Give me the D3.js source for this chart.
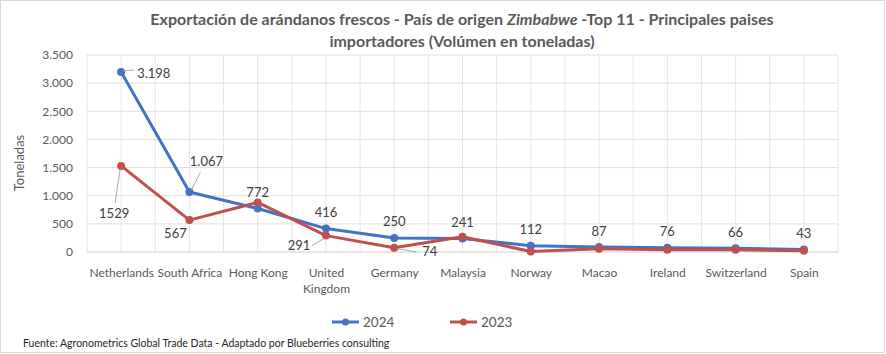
<!DOCTYPE html>
<html>
<head>
<meta charset="utf-8">
<script src="https://cdn.jsdelivr.net/npm/d3@7"></script>
<style>
  body { margin: 0; background: #fff; }
  text { font-family: Lato, "Open Sans", sans-serif; }
</style>
</head>
<body>
<div id="chart"></div>
<script>
// data
var countries = ["Netherlands", "South Africa", "Hong Kong", "United Kingdom", "Germany",
  "Malaysia", "Norway", "Macao", "Ireland", "Switzerland", "Spain"];
var values2024 = [3198, 1067, 772, 416, 250, 241, 112, 87, 76, 66, 43];
var values2023 = [1529, 567, 880, 291, 74, 270, 8, 58, 42, 38, 20];
var yTicks = [0, 500, 1000, 1500, 2000, 2500, 3000, 3500];
var seriesNames = ["2024", "2023"];

var W = 886, H = 354;
var margin = { top: 55, right: 48, bottom: 102, left: 87 };
var width = 838 - margin.left,
  height = 252 - margin.top;

var blue = "#4472c4", red = "#c0504d";
var textColor = "#595959";

var svgRoot = d3.select("#chart").append("svg")
  .attr("width", W).attr("height", H);

// outer frame
svgRoot.append("rect")
  .attr("x", 0.5).attr("y", 0.5)
  .attr("width", W - 2).attr("height", H - 2)
  .style("fill", "#fff").style("stroke", "#d9d9d9");

// title
var title = svgRoot.append("text")
  .attr("x", 462).attr("y", 25)
  .attr("text-anchor", "middle")
  .style("font-size", "16px").style("font-weight", "bold").style("fill", textColor);
title.append("tspan").text("Exportación de arándanos frescos - País de origen ");
title.append("tspan").style("font-style", "italic").text("Zimbabwe");
title.append("tspan").text(" -Top 11 - Principales paises");
svgRoot.append("text")
  .attr("x", 462).attr("y", 47)
  .attr("text-anchor", "middle")
  .style("font-size", "16px").style("font-weight", "bold").style("fill", textColor)
  .text("importadores (Volúmen en toneladas)");

var svg = svgRoot.append("g")
  .attr("transform", `translate(${margin.left},${margin.top})`);

var x = d3.scalePoint().domain(countries).range([0, width]).padding(0.5);
var y = d3.scaleLinear().domain([0, 3500]).range([height, 0]);
var step = x.step();

// vertical gridlines at category centres and boundaries
var vLines = [];
countries.forEach(function (c, i) {
  vLines.push(x(c) - step / 2);
  vLines.push(x(c));
});
vLines.push(width);
svg.append("g").selectAll("line").data(vLines).enter().append("line")
  .attr("x1", function (d) { return d; }).attr("x2", function (d) { return d; })
  .attr("y1", 0).attr("y2", height)
  .style("stroke", "#e6e6e6").style("stroke-width", 1);

// horizontal gridlines
svg.append("g").selectAll("line").data(yTicks).enter().append("line")
  .attr("x1", 0).attr("x2", width)
  .attr("y1", function (d) { return y(d); }).attr("y2", function (d) { return y(d); })
  .style("stroke", function (d) { return d === 0 ? "#d0d0d0" : "#e0e0e0"; })
  .style("stroke-width", 1);

// y axis labels
var fmt = d3.formatLocale({ decimal: ",", thousands: ".", grouping: [3], currency: ["", ""] }).format(",");
var yAxis = d3.axisLeft(y).tickValues(yTicks).tickSize(0).tickPadding(14).tickFormat(fmt);
var gy = svg.append("g").call(yAxis);
gy.select(".domain").remove();
gy.selectAll("text").style("font-size", "12px").style("fill", textColor).style("font-family", "Lato, sans-serif");

svgRoot.append("text")
  .attr("transform", "translate(24,163) rotate(-90)")
  .attr("text-anchor", "middle")
  .style("font-size", "13px").style("fill", textColor)
  .text("Toneladas");

// x axis labels
var xAxis = d3.axisBottom(x).tickSize(0).tickPadding(16);
var gx = svg.append("g").attr("transform", `translate(0,${height})`).call(xAxis);
gx.select(".domain").remove();
gx.selectAll("text").style("font-size", "12px").style("fill", textColor).style("font-family", "Lato, sans-serif")
  .each(function (d) {
    if (d === "United Kingdom") {
      var t = d3.select(this);
      t.text(null);
      t.append("tspan").attr("x", 0).attr("dy", "0.71em").text("United");
      t.append("tspan").attr("x", 0).attr("dy", "1.35em").text("Kingdom");
    }
  });

// lines
var line = d3.line()
  .x(function (d, i) { return x(countries[i]); })
  .y(function (d) { return y(d); });

function drawSeries(vals, color) {
  svg.append("path").datum(vals)
    .attr("d", line)
    .style("fill", "none").style("stroke", color)
    .style("stroke-width", 3).style("stroke-linejoin", "round");
  svg.append("g").selectAll("circle").data(vals).enter().append("circle")
    .attr("cx", function (d, i) { return x(countries[i]); })
    .attr("cy", function (d) { return y(d); })
    .attr("r", 4).style("fill", color);
}
drawSeries(values2024, blue);
drawSeries(values2023, red);

// data labels (offsets relative to the point, leader lines where the chart has them)
var labels2024 = {
  0: { dx: 14, dy: 1, anchor: "start", leader: [[2, -1], [13, -2]] },
  1: { dx: 17, dy: -30, anchor: "middle", leader: [[2, -2], [11, -20]] }
};
var labels2023 = {
  0: { dx: -7, dy: 48, anchor: "middle", leader: [[-1, 3], [-6, 37]] },
  1: { dx: -14, dy: 13, anchor: "middle" },
  3: { dx: -27, dy: 10, anchor: "middle", leader: [[-2, 3], [-14, 10]] },
  4: { dx: 26, dy: 4, anchor: "start", leader: [[3, 1], [22, 4]] }
};
var fmtRed = d3.format("d");

function drawLabels(vals, placement, format, all) {
  vals.forEach(function (v, i) {
    var p = placement[i];
    if (!p && !all) return;
    if (!p) p = { dx: 0, dy: -16, anchor: "middle" };
    var px = x(countries[i]), py = y(v);
    if (p.leader) {
      svg.append("path")
        .attr("d", d3.line().curve(d3.curveBasis)([
          [px + p.leader[0][0], py + p.leader[0][1]],
          [px + (p.leader[0][0] + p.leader[1][0]) / 2, py + (p.leader[0][1] + p.leader[1][1]) / 2],
          [px + p.leader[1][0], py + p.leader[1][1]]
        ]))
        .style("fill", "none").style("stroke", "#a6a6a6").style("stroke-width", 1);
    }
    svg.append("text")
      .attr("x", px + (p.anchor === "start" ? p.dx + 2 : p.dx))
      .attr("y", py + p.dy)
      .attr("dy", "0.35em")
      .attr("text-anchor", p.anchor)
      .style("font-size", "13px").style("fill", "#404040")
      .text(format(v));
  });
}
drawLabels(values2024, labels2024, fmt, true);
drawLabels(values2023, labels2023, fmtRed, false);

// legend
var legend = svgRoot.append("g");
[[blue, 332], [red, 450]].forEach(function (d, i) {
  legend.append("line")
    .attr("x1", d[1]).attr("x2", d[1] + 27).attr("y1", 322).attr("y2", 322)
    .style("stroke", d[0]).style("stroke-width", 3);
  legend.append("circle")
    .attr("cx", d[1] + 13.5).attr("cy", 322).attr("r", 3.5).style("fill", d[0]);
  legend.append("text")
    .attr("x", d[1] + 31).attr("y", 322).attr("dy", "0.35em")
    .style("font-size", "13.5px").style("fill", textColor)
    .text(seriesNames[i]);
});

// source note
svgRoot.append("text")
  .attr("x", 23).attr("y", 343).attr("dy", "0.35em")
  .style("font-size", "10.5px").style("fill", "#262626")
  .text("Fuente: Agronometrics Global Trade Data - Adaptado por Blueberries consulting");
</script>
</body>
</html>
